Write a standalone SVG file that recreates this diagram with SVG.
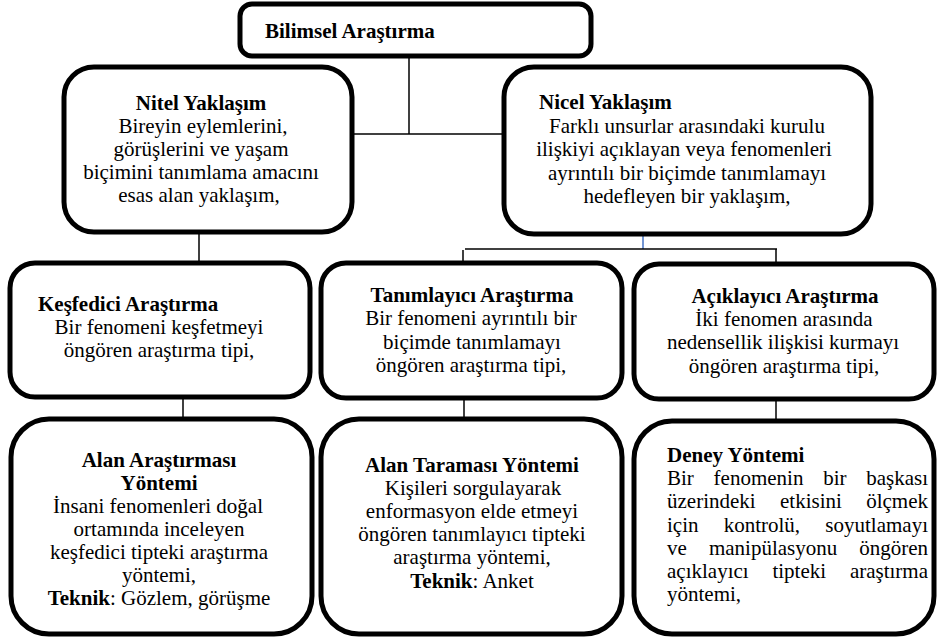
<svg xmlns="http://www.w3.org/2000/svg" width="938" height="638" viewBox="0 0 938 638">
<style>
.box{fill:#fff;stroke:#000;stroke-width:5}
.t{font-size:21px;fill:#000}
.b{font-weight:bold}
.c{text-anchor:middle}
.ln{stroke:#000;stroke-width:1.5;fill:none}
.blue{stroke:#4472C4;stroke-width:1.5;fill:none}
</style>
<rect width="938" height="638" fill="#fff"/>
<g id="connectors">
<line class="ln" x1="409" y1="57" x2="409" y2="134"/>
<line class="ln" x1="352" y1="134" x2="504" y2="134"/>
<line class="ln" x1="199" y1="233" x2="199" y2="263"/>
<line class="blue" x1="643" y1="235" x2="643" y2="249"/>
<line class="ln" x1="465" y1="249" x2="777" y2="249"/>
<line class="ln" x1="463" y1="250" x2="463" y2="263"/>
<line class="ln" x1="776" y1="249" x2="776" y2="264"/>
<line class="ln" x1="183" y1="398" x2="183" y2="419"/>
<line class="ln" x1="464" y1="398" x2="464" y2="419"/>
<line class="ln" x1="776" y1="399" x2="776" y2="421"/>
</g>
<g font-family="Liberation Serif, Times New Roman, serif">
<g id="bilimsel">
<rect class="box" x="240" y="4" width="351" height="52" rx="12"/>
<text class="t b" x="265" y="38">Bilimsel Araştırma</text>
</g>
<g id="nitel">
<rect class="box" x="64" y="67" width="288" height="165" rx="30"/>
<text class="t c" x="201"><tspan class="b" x="201" y="110">Nitel Yaklaşım</tspan><tspan x="203" y="133">Bireyin eylemlerini,</tspan><tspan x="201" y="156">görüşlerini ve yaşam</tspan><tspan x="201" y="179">biçimini tanımlama amacını</tspan><tspan x="199" y="202">esas alan yaklaşım,</tspan></text>
</g>
<g id="nicel">
<rect class="box" x="504" y="67" width="367" height="167" rx="30"/>
<text class="t b" x="539" y="109">Nicel Yaklaşım</text>
<text class="t c"><tspan x="687" y="133">Farklı unsurlar arasındaki kurulu</tspan><tspan x="684" y="156">ilişkiyi açıklayan veya fenomenleri</tspan><tspan x="687" y="180">ayrıntılı bir biçimde tanımlamayı</tspan><tspan x="687" y="203">hedefleyen bir yaklaşım,</tspan></text>
</g>
<g id="kesfedici">
<rect class="box" x="10" y="263" width="300" height="134" rx="25"/>
<text class="t b" x="38" y="311">Keşfedici Araştırma</text>
<text class="t c"><tspan x="159" y="334">Bir fenomeni keşfetmeyi</tspan><tspan x="159" y="357">öngören araştırma tipi,</tspan></text>
</g>
<g id="tanimlayici">
<rect class="box" x="321" y="263" width="301" height="135" rx="25"/>
<text class="t c"><tspan class="b" x="472" y="302">Tanımlayıcı Araştırma</tspan><tspan x="471" y="325">Bir fenomeni ayrıntılı bir</tspan><tspan x="472" y="349">biçimde tanımlamayı</tspan><tspan x="471" y="372">öngören araştırma tipi,</tspan></text>
</g>
<g id="aciklayici">
<rect class="box" x="634" y="264" width="300" height="135" rx="25"/>
<text class="t c"><tspan class="b" x="785" y="303">Açıklayıcı Araştırma</tspan><tspan x="784" y="326">İki fenomen arasında</tspan><tspan x="783" y="349">nedensellik ilişkisi kurmayı</tspan><tspan x="784" y="373">öngören araştırma tipi,</tspan></text>
</g>
<g id="alan-arastirmasi">
<rect class="box" x="11" y="419" width="301" height="215" rx="38"/>
<text class="t c"><tspan class="b" x="159" y="467">Alan Araştırması</tspan><tspan class="b" x="159" y="490">Yöntemi</tspan><tspan x="158" y="513">İnsani fenomenleri doğal</tspan><tspan x="159" y="536">ortamında inceleyen</tspan><tspan x="159" y="559">keşfedici tipteki araştırma</tspan><tspan x="159" y="582">yöntemi,</tspan><tspan x="159" y="605"><tspan class="b">Teknik</tspan>: Gözlem, görüşme</tspan></text>
</g>
<g id="alan-taramasi">
<rect class="box" x="321" y="419" width="301" height="215" rx="38"/>
<text class="t c"><tspan class="b" x="472" y="472">Alan Taraması Yöntemi</tspan><tspan x="473" y="495">Kişileri sorgulayarak</tspan><tspan x="472" y="518">enformasyon elde etmeyi</tspan><tspan x="472" y="541">öngören tanımlayıcı tipteki</tspan><tspan x="472" y="564">araştırma yöntemi,</tspan><tspan x="472" y="588"><tspan class="b">Teknik</tspan>: Anket</tspan></text>
</g>
<g id="deney">
<rect class="box" x="634" y="421" width="300" height="213" rx="38"/>
<text class="t b" x="667" y="462">Deney Yöntemi</text>
<text class="t"><tspan x="667" y="485">Bir</tspan><tspan x="713.6" y="485">fenomenin</tspan><tspan x="823.2" y="485">bir</tspan><tspan x="928" y="485" text-anchor="end">başkası</tspan></text>
<text class="t"><tspan x="667" y="508">üzerindeki</tspan><tspan x="780" y="508">etkisini</tspan><tspan x="928" y="508" text-anchor="end">ölçmek</tspan></text>
<text class="t"><tspan x="667" y="532">için</tspan><tspan x="723.7" y="532">kontrolü,</tspan><tspan x="928" y="532" text-anchor="end">soyutlamayı</tspan></text>
<text class="t"><tspan x="667" y="555">ve</tspan><tspan x="708.9" y="555">manipülasyonu</tspan><tspan x="928" y="555" text-anchor="end">öngören</tspan></text>
<text class="t"><tspan x="667" y="578">açıklayıcı</tspan><tspan x="772.4" y="578">tipteki</tspan><tspan x="928" y="578" text-anchor="end">araştırma</tspan></text>
<text class="t" x="667" y="601">yöntemi,</text>
</g>
</g>
</svg>
